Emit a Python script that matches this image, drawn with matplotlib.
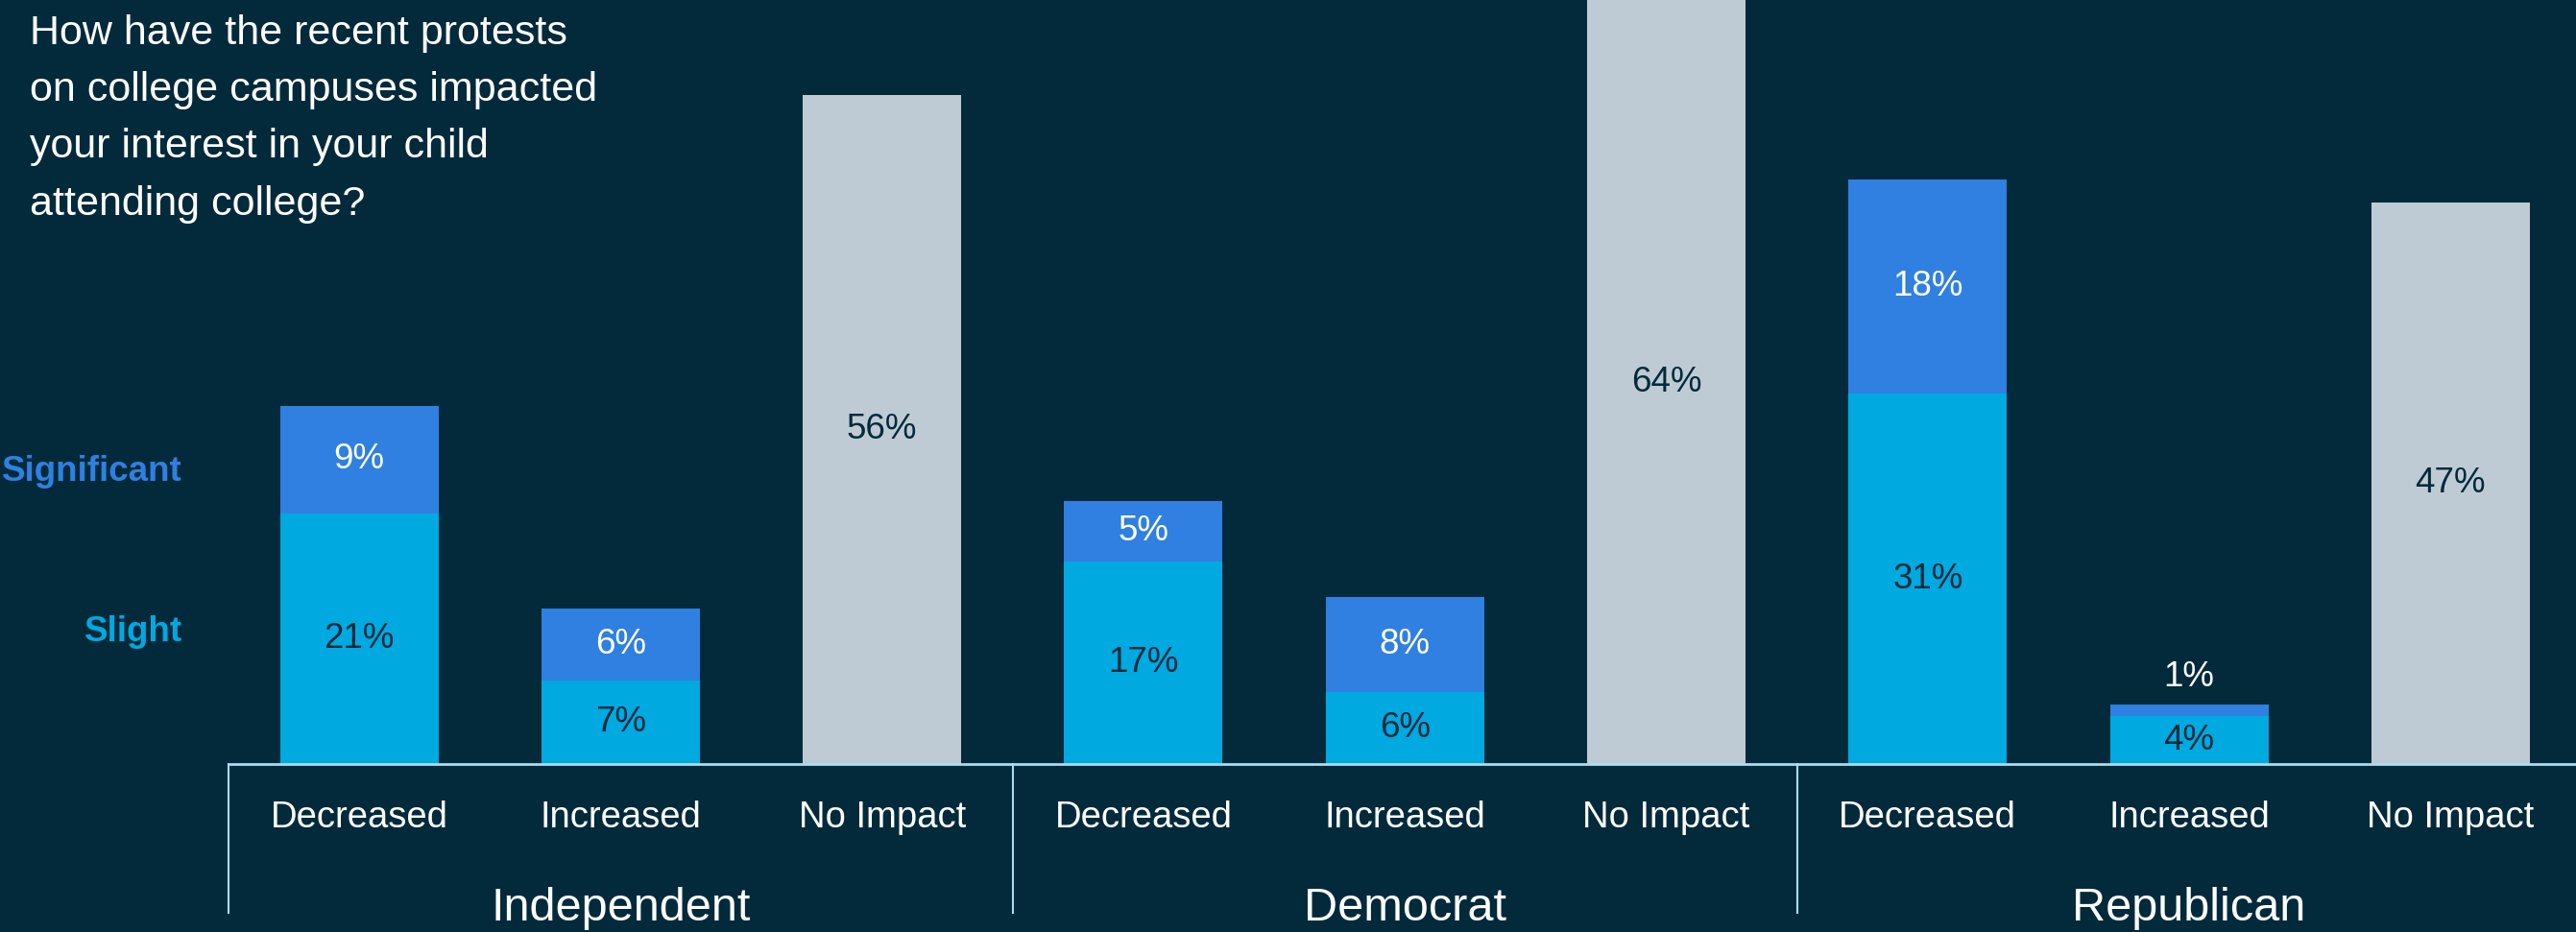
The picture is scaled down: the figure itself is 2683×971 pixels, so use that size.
import matplotlib
matplotlib.use("Agg")
import matplotlib.pyplot as plt
import numpy as np

groups = ["Independent", "Democrat", "Republican"]
categories = ["Decreased", "Increased", "No Impact"]
slight = [21, 7, None, 17, 6, None, 31, 4, None]
significant = [9, 6, None, 5, 8, None, 18, 1, None]
no_impact = [None, None, 56, None, None, 64, None, None, 47]

BG = "#022a3b"
C_SIG = "#2f80e0"
C_SLI = "#00a9e0"
C_NI = "#bfcbd4"
LINE = "#a9dcef"
FONT = ["Liberation Sans", "DejaVu Sans"]
plt.rcParams["font.family"] = FONT

fig = plt.figure(figsize=(26.83, 9.71), dpi=100, facecolor=BG)
ax = fig.add_axes([238/2683, 1-796/971, 1-238/2683, 796/971])
ax.set_facecolor(BG)

x = np.arange(9)
w = 0.606
for i in range(9):
    if no_impact[i] is not None:
        ax.bar(x[i], no_impact[i], width=w, color=C_NI)
        ax.text(x[i], no_impact[i]/2, f"{no_impact[i]}%", ha="center", va="center",
                fontsize=26.5, color=BG)
    else:
        s, g = slight[i], significant[i]
        ax.bar(x[i], s, width=w, color=C_SLI)
        ax.bar(x[i], g, bottom=s, width=w, color=C_SIG)
        ax.text(x[i], s/2, f"{s}%", ha="center", va="center", fontsize=26.5, color=BG)
        if g >= 3:
            ax.text(x[i], s + g/2, f"{g}%", ha="center", va="center", fontsize=26.5, color="white")
        else:
            ax.text(x[i], s + g + 2.3, f"{g}%", ha="center", va="center", fontsize=26.5, color="white")

ax.set_xlim(-0.5, 8.48)
ax.set_ylim(0, 64)
for sp in ["top", "right", "left"]:
    ax.spines[sp].set_visible(False)
ax.spines["bottom"].set_color(LINE)
ax.spines["bottom"].set_linewidth(2)
ax.set_yticks([])
ax.set_xticks([])

# category labels
trans = ax.get_xaxis_transform()
for i in range(9):
    ax.text(x[i], -(852-796)/796, categories[i % 3], transform=trans, ha="center", va="center",
            fontsize=27.5, color="white")
# group labels and separators
for gi, g in enumerate(groups):
    ax.text(gi*3 + 1, -(946-796)/796, g, transform=trans, ha="center", va="center",
            fontsize=35, color="white")
for xs in [-0.5, 2.5, 5.5]:
    ax.plot([xs, xs], [0, -(951-796)/796], transform=trans, color=LINE, lw=1.5, clip_on=False)

# legend-like labels
fig.text(190/2683, 1-491/971, "Significant", ha="right", va="center", fontsize=26.5,
         fontweight="bold", color=C_SIG)
fig.text(190/2683, 1-658/971, "Slight", ha="right", va="center", fontsize=26.5,
         fontweight="bold", color=C_SLI)

title = "How have the recent protests\non college campuses impacted\nyour interest in your child\nattending college?"
fig.text(31/2683, 1-15/971, title, ha="left", va="top", fontsize=31, color="white",
         linespacing=1.62)

fig.savefig("out.png", dpi=100, facecolor=BG)
